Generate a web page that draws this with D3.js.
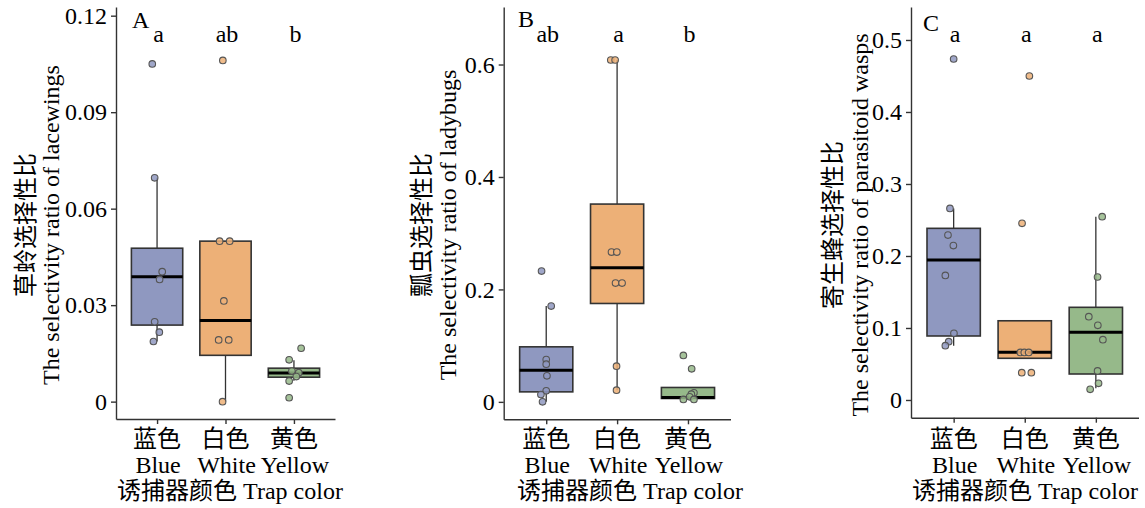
<!DOCTYPE html>
<html><head><meta charset="utf-8">
<script src="https://cdn.jsdelivr.net/npm/d3@7"></script>
<style>
body{margin:0;background:#fff;}
text{font-family:"Liberation Serif","Times New Roman","Noto Sans CJK SC",serif;fill:#000;}
</style></head>
<body>
<svg id="chart" width="1145" height="508"></svg>
<script>
// ---------- data ----------
const categories = ["Blue","White","Yellow"];
const categoriesZh = ["蓝色","白色","黄色"];
const boxColors = ["#8f98c0","#edb077","#96b98a"];

const panelLetters = ["A","B","C"];
const yLabelZh = ["草蛉选择性比","瓢虫选择性比","寄生蜂选择性比"];
const yLabelEn = ["The selectivity ratio of lacewings","The selectivity ratio of ladybugs","The selectivity ratio of parasitoid wasps"];
const xTitle = "诱捕器颜色 Trap color";

const yTicksA = [0,0.03,0.06,0.09,0.12];
const yTicksB = [0,0.2,0.4,0.6];
const yTicksC = [0,0.1,0.2,0.3,0.4,0.5];
const yLimitsA = [-0.0054,0.1227];
const yLimitsB = [-0.031,0.7023];
const yLimitsC = [-0.0246,0.5458];

const sigA = ["a","ab","b"];
const sigB = ["ab","a","b"];
const sigC = ["a","a","a"];

// box statistics per category: [lower whisker, Q1, median, Q3, upper whisker]
const statsA = [[0.0187,0.0238,0.0388,0.0477,0.0696],[0.0,0.0144,0.0252,0.0499,0.0499],[0.0065,0.0076,0.0089,0.0104,0.0129]];
const statsB = [[0.0,0.0178,0.0564,0.0979,0.1703],[0.0208,0.175,0.2384,0.3518,0.608],[0.0043,0.006,0.0078,0.0256,0.0256]];
const statsC = [[0.0755,0.0889,0.1944,0.2384,0.266],[0.0579,0.0579,0.0662,0.110,0.110],[0.0162,0.0361,0.094,0.1287,0.2546]];

// raw observations per category
const pointsA = [[0.105,0.0696,0.0404,0.038,0.0248,0.0216,0.0187],[0.1061,0.0499,0.0499,0.0313,0.0192,0.0192,0.0],[0.0166,0.013,0.0095,0.009,0.0078,0.0064,0.0012]];
const pointsB = [[0.2326,0.1703,0.0754,0.067,0.0463,0.0196,0.0131,0.0],[0.608,0.608,0.2664,0.2664,0.2112,0.2112,0.0635,0.0208],[0.0826,0.0587,0.016,0.0137,0.009,0.0043,0.0043]];
const pointsC = [[0.4736,0.266,0.229,0.2144,0.173,0.0926,0.081,0.0755],[0.45,0.2454,0.066,0.066,0.066,0.038,0.038],[0.2546,0.1708,0.1157,0.1037,0.0838,0.0403,0.0231,0.0148]];
// horizontal jitter of each observation, as a fraction of the category step
const jitterA = [[-0.07,-0.035,0.075,0.037,-0.035,0.033,-0.053],[-0.039,-0.086,0.061,-0.024,-0.1,0.047,-0.043],[0.105,-0.07,-0.03,0.07,0.035,-0.07,-0.07]];
const jitterB = [[-0.066,0.07,0,0,0.01,0,-0.075,-0.052],[-0.089,-0.028,-0.079,-0.004,-0.022,0.07,-0.008,-0.008],[-0.065,0.052,0.084,0.048,0.024,-0.065,0.084]];
const jitterC = [[0,-0.052,-0.08,-0.004,-0.117,0.004,-0.07,-0.117],[0.065,-0.038,-0.062,-0.006,0.056,-0.042,0.093],[0.089,0.024,-0.099,0.028,0.099,0.024,0.038,-0.08]];

// ---------- layout ----------
const FS = 24;
const panels = [
  {letter:panelLetters[0], zh:yLabelZh[0], en:yLabelEn[0], ticks:yTicksA, lim:yLimitsA, sig:sigA, stats:statsA, pts:pointsA, jit:jitterA, fmt:d3.format(".2f"),
   x0:116, x1:335, yTop:7, yBot:419, zhX:23, enX:59, titleX:230, letterX:132, letterY:28},
  {letter:panelLetters[1], zh:yLabelZh[1], en:yLabelEn[1], ticks:yTicksB, lim:yLimitsB, sig:sigB, stats:statsB, pts:pointsB, jit:jitterB, fmt:d3.format(".1f"),
   x0:503.7, x1:730.5, yTop:7, yBot:419.3, zhX:419, enX:456, titleX:630, letterX:518, letterY:27},
  {letter:panelLetters[2], zh:yLabelZh[2], en:yLabelEn[2], ticks:yTicksC, lim:yLimitsC, sig:sigC, stats:statsC, pts:pointsC, jit:jitterC, fmt:d3.format(".1f"),
   x0:911, x1:1138.5, yTop:7, yBot:417.7, zhX:830, enX:868, titleX:1025, letterX:923, letterY:30.5}
];

const svg = d3.select("#chart");

panels.forEach(p => {
  const g = svg.append("g");
  const y = d3.scaleLinear().domain(p.lim).range([p.yBot, p.yTop]);
  const x = d3.scalePoint().domain(categories).range([p.x0, p.x1]).padding(0.6);
  const step = x.step();
  const bw = step*0.75;

  // y axis
  const ya = g.append("g").attr("transform",`translate(${p.x0},0)`)
    .call(d3.axisLeft(y).tickValues(p.ticks).tickSize(5).tickSizeOuter(0).tickPadding(4)
      .tickFormat(v => v===0 ? "0" : p.fmt(v)));
  // x axis
  const xa = g.append("g").attr("transform",`translate(0,${p.yBot})`)
    .call(d3.axisBottom(x).tickSize(5).tickSizeOuter(0).tickFormat(""));
  [ya,xa].forEach(a=>{
    a.selectAll("path,line").attr("stroke","#333").attr("stroke-width",1.4);
    a.selectAll("text").style("font-size",FS+"px").attr("fill","#000");
  });

  // boxes
  categories.forEach((c,i) => {
    const s = p.stats[i];
    const cx = x(c);
    g.append("line").attr("x1",cx).attr("x2",cx).attr("y1",y(s[3])).attr("y2",y(s[4]))
      .attr("stroke","#333").attr("stroke-width",1.3);
    g.append("line").attr("x1",cx).attr("x2",cx).attr("y1",y(s[0])).attr("y2",y(s[1]))
      .attr("stroke","#333").attr("stroke-width",1.3);
    g.append("rect").attr("x",cx-bw/2).attr("width",bw)
      .attr("y",y(s[3])).attr("height",y(s[1])-y(s[3]))
      .attr("fill",boxColors[i]).attr("stroke","#333").attr("stroke-width",1.6);
    g.append("line").attr("x1",cx-bw/2).attr("x2",cx+bw/2).attr("y1",y(s[2])).attr("y2",y(s[2]))
      .attr("stroke","#000").attr("stroke-width",3);
    // points
    g.selectAll(null).data(p.pts[i].map((v,k)=>({v, j:p.jit[i][k]}))).join("circle")
      .attr("cx",d=>cx + d.j*step).attr("cy",d=>y(d.v)).attr("r",3.3)
      .attr("fill",boxColors[i]).attr("fill-opacity",0.85)
      .attr("stroke","#555").attr("stroke-width",1.1);
    // significance letters
    g.append("text").attr("x",cx+1.5).attr("y",42.3).attr("text-anchor","middle")
      .style("font-size",FS+"px").text(p.sig[i]);
    // category labels
    g.append("text").attr("x",cx).attr("y",447).attr("text-anchor","middle")
      .style("font-size",FS+"px").style("font-family","'Noto Sans CJK SC'").text(categoriesZh[i]);
    g.append("text").attr("x",cx+1).attr("y",473).attr("text-anchor","middle")
      .style("font-size",FS+"px").text(c);
  });

  // panel letter
  g.append("text").attr("x",p.letterX).attr("y",p.letterY).style("font-size",FS+"px").text(p.letter);
  // x title
  g.append("text").attr("x",p.titleX).attr("y",499).attr("text-anchor","middle")
    .style("font-size",FS+"px").text(xTitle);
  // y titles
  g.append("text").attr("transform",`translate(${p.zhX},225) rotate(-90)`).attr("text-anchor","middle")
    .attr("dominant-baseline","central").style("font-family","'Noto Sans CJK SC'")
    .style("font-size",FS+"px").text(p.zh);
  g.append("text").attr("transform",`translate(${p.enX},225) rotate(-90)`).attr("text-anchor","middle")
    .style("font-size",FS+"px").text(p.en);
});
</script>
</body></html>
